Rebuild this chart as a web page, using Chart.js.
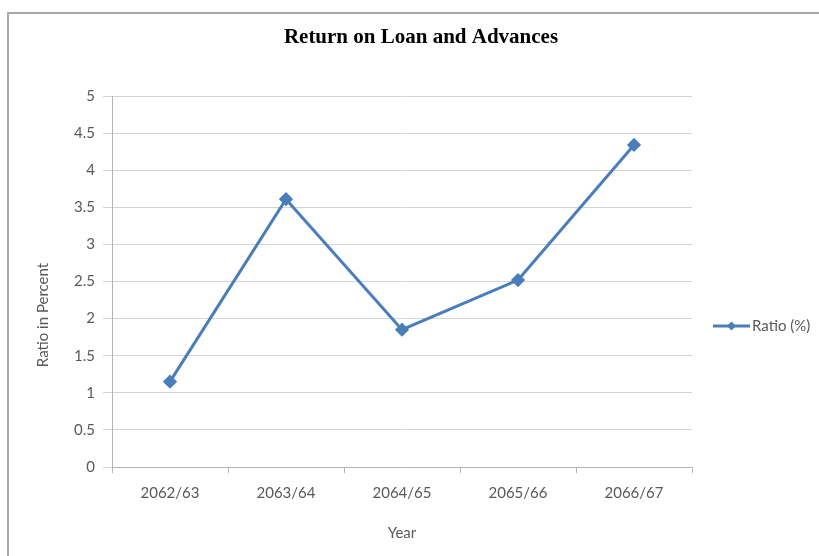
<!DOCTYPE html>
<html>
<head>
<meta charset="utf-8">
<title>Return on Loan and Advances</title>
<script src="https://cdn.jsdelivr.net/npm/chart.js@4/dist/chart.umd.min.js"></script>
<style>
  html, body { margin: 0; padding: 0; background: #fff; overflow: hidden; }
  #wrap { position: relative; width: 819px; height: 556px; }
  /* outer chart frame, only top and left edges are visible */
  #frame {
    position: absolute; left: 7px; top: 12px; width: 900px; height: 700px;
    border: 2px solid #a8a8a8; box-sizing: border-box;
  }
  #chart { position: absolute; left: 0; top: 0; }
</style>
</head>
<body>
<div id="wrap">
  <div id="frame"></div>
  <canvas id="chart" width="819" height="556"></canvas>
</div>
<script>
  // Chart data
  const years = ['2062/63', '2063/64', '2064/65', '2065/66', '2066/67'];
  const ratio = [1.15, 3.61, 1.85, 2.52, 4.34];
  const seriesName = 'Ratio (%)';
  const chartTitle = 'Return on Loan and Advances';
  const yTitle = 'Ratio in Percent';
  const xTitle = 'Year';

  const colors = {
    line: '#4a7ebb',
    grid: '#d4d4d4',
    axis: '#b5b5b5',
    text: '#595959',
  };
  const labelFont = { family: 'Lato', size: 15 };

  // Title, rotated y title and the side legend
  const extras = {
    id: 'extras',
    afterDraw(chart) {
      const ctx = chart.ctx;
      ctx.save();

      ctx.fillStyle = '#000';
      ctx.font = 'bold 21px "Liberation Serif"';
      ctx.textAlign = 'center';
      ctx.textBaseline = 'middle';
      ctx.fillText(chartTitle, 421, 38);

      ctx.fillStyle = colors.text;
      ctx.font = '15px Lato';
      ctx.translate(43, 315);
      ctx.rotate(-Math.PI / 2);
      ctx.fillText(yTitle, 0, 0);
      ctx.setTransform(1, 0, 0, 1, 0, 0);

      // legend entry: line with diamond marker
      const ly = 326;
      const color = chart.data.datasets[0].borderColor;
      ctx.strokeStyle = color;
      ctx.lineWidth = 3;
      ctx.beginPath();
      ctx.moveTo(713, ly);
      ctx.lineTo(750, ly);
      ctx.stroke();
      ctx.fillStyle = color;
      ctx.beginPath();
      ctx.moveTo(731.5, ly - 4.5);
      ctx.lineTo(736, ly);
      ctx.lineTo(731.5, ly + 4.5);
      ctx.lineTo(727, ly);
      ctx.closePath();
      ctx.fill();
      ctx.fillStyle = colors.text;
      ctx.textAlign = 'left';
      ctx.fillText(seriesName, 752, ly);

      ctx.restore();
    },
  };

  new Chart(document.getElementById('chart'), {
    type: 'line',
    data: {
      labels: years,
      datasets: [
        {
          label: seriesName,
          data: ratio,
          borderColor: colors.line,
          backgroundColor: colors.line,
          borderWidth: 3,
          pointStyle: 'rectRot',
          pointRadius: 5,
          pointHoverRadius: 5,
          tension: 0,
        },
      ],
    },
    options: {
      responsive: false,
      animation: false,
      devicePixelRatio: 1,
      layout: {
        padding: { top: 96, left: 10, right: 127, bottom: 0 },
      },
      plugins: {
        legend: { display: false },
        title: { display: false },
        tooltip: { enabled: false },
      },
      scales: {
        x: {
          type: 'category',
          offset: true,
          afterFit: (scale) => { scale.height = 89; },
          grid: {
            offset: true,
            drawOnChartArea: false,
            drawTicks: true,
            tickLength: 6,
            color: colors.axis,
          },
          border: { color: colors.axis, width: 1 },
          ticks: {
            color: colors.text,
            font: labelFont,
            padding: 11,
            maxRotation: 0,
          },
          title: {
            display: true,
            text: xTitle,
            color: colors.text,
            font: labelFont,
            padding: { top: 0, bottom: 14 },
          },
        },
        y: {
          min: 0,
          max: 5,
          afterFit: (scale) => { scale.width = 102; },
          grid: {
            color: colors.grid,
            lineWidth: 1,
            drawTicks: true,
            tickLength: 9,
          },
          border: { color: colors.axis, width: 1 },
          ticks: {
            stepSize: 0.5,
            color: colors.text,
            font: labelFont,
            padding: 8,
            callback: (v) => String(v),
          },
        },
      },
    },
    plugins: [extras],
  });
</script>
</body>
</html>
